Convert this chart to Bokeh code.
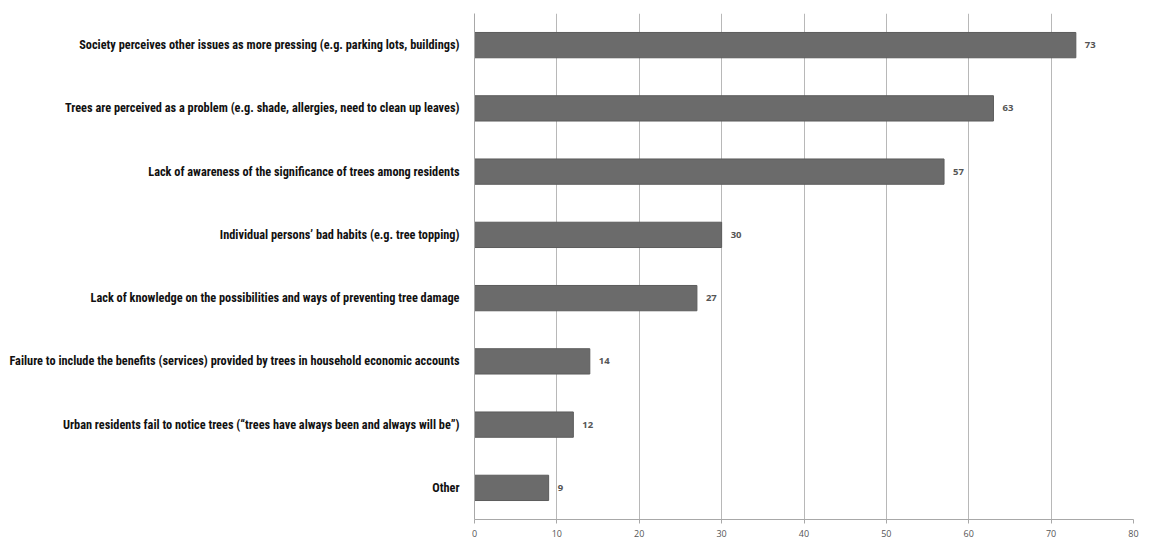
from bokeh.plotting import figure
from bokeh.models import ColumnDataSource, FactorRange, Range1d, FixedTicker
from bokeh.core.properties import value
from bokeh.embed import file_html
from bokeh.resources import INLINE

categories = [
    "Society perceives other issues as more pressing (e.g. parking lots, buildings)",
    "Trees are perceived as a problem (e.g. shade, allergies, need to clean up leaves)",
    "Lack of awareness of the significance of trees among residents",
    "Individual persons\u2019 bad habits (e.g. tree topping)",
    "Lack of knowledge on the possibilities and ways of preventing tree damage",
    "Failure to include the benefits (services) provided by trees in household economic accounts",
    "Urban residents fail to notice trees (\u201ctrees have always been and always will be\u201d)",
    "Other",
]
values = [73, 63, 57, 30, 27, 14, 12, 9]
x_ticks = [0, 10, 20, 30, 40, 50, 60, 70, 80]

src = ColumnDataSource(dict(cat=categories, val=values, lab=[str(v) for v in values]))

p = figure(width=1150, height=539, output_backend="svg", toolbar_location=None,
           y_range=FactorRange(*reversed(categories)), x_range=Range1d(0, 80),
           min_border_left=12, min_border_right=17, min_border_top=13, min_border_bottom=5)
p.outline_line_color = None
p.background_fill_color = "white"

p.hbar(y="cat", right="val", height=0.4, source=src, fill_color="#6b6b6b", line_color="#5c5c5c")
p.text(x="val", y="cat", text="lab", source=src, x_offset=9, text_baseline="middle",
       text_font=value("Open Sans"), text_font_size="9.5px", text_font_style="bold",
       text_color="#555555")

p.xaxis.ticker = FixedTicker(ticks=x_ticks)
p.xaxis.axis_line_color = "#a8a8a8"
p.xaxis.major_tick_line_color = "#a8a8a8"
p.xaxis.major_tick_out = 4
p.xaxis.major_tick_in = 0
p.xaxis.minor_tick_line_color = None
p.xaxis.major_label_text_font = "Open Sans"
p.xaxis.major_label_text_font_size = "9px"
p.xaxis.major_label_text_color = "#555555"
p.xaxis.major_label_standoff = 6

p.yaxis.axis_line_color = "#a8a8a8"
p.yaxis.major_tick_line_color = None
p.yaxis.major_label_text_font = "Roboto Condensed"
p.yaxis.major_label_text_font_style = "bold"
p.yaxis.major_label_text_font_size = "12.3px"
p.yaxis.major_label_text_color = "#111111"
p.yaxis.major_label_standoff = 9
p.yaxis.axis_label = " "
p.yaxis.axis_label_text_font_size = "3px"
p.yaxis.axis_label_standoff = 0

p.xgrid.grid_line_color = "#b8b8b8"
p.xgrid.grid_line_width = 1
p.ygrid.grid_line_color = None

open("out.html", "w").write(file_html(p, INLINE))
